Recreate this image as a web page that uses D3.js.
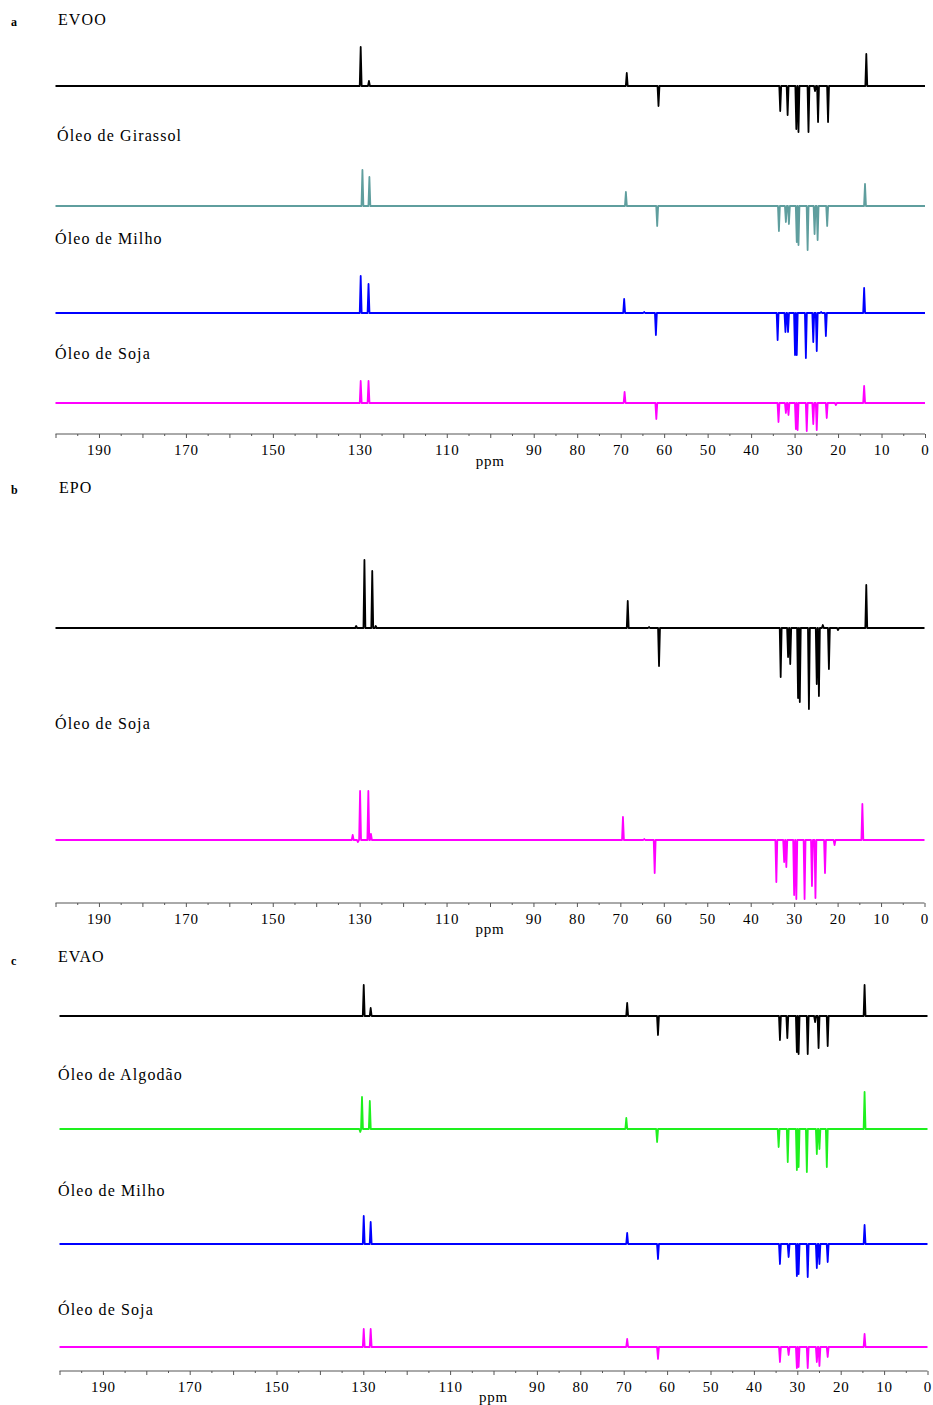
<!DOCTYPE html>
<html>
<head>
<meta charset="utf-8">
<script src="https://cdn.jsdelivr.net/npm/d3@7"></script>
<style>
  body { margin: 0; background: #fff; }
  text { font-family: "Liberation Serif", "DejaVu Serif", serif; }
</style>
</head>
<body>
<svg id="chart" width="933" height="1405"></svg>
<script>
// peak lists: [ppm, relative intensity] (negative = CH2 in DEPT)
const evooA = [[129.8, 39], [127.9, 5], [68.6, 13], [61.3, -20], [33.3, -25], [31.6, -29],
  [29.6, -43], [29.1, -46], [26.8, -46], [25.3, -5], [24.6, -36], [22.3, -36], [13.5, 32]];
const girassolA = [[129.4, 36], [127.8, 29], [68.8, 14], [61.6, -20], [33.6, -25], [32.0, -16],
  [31.3, -18], [29.5, -36], [29.1, -39], [27.0, -44], [25.4, -28], [24.7, -34], [22.5, -20], [13.8, 22]];
const milhoA = [[129.8, 37], [128.0, 29], [69.2, 14], [64.6, 1], [61.9, -22], [33.9, -27], [32.1, -19],
  [31.5, -19], [29.9, -42], [29.5, -42], [27.4, -45], [25.7, -29], [24.9, -38], [23.9, 1], [22.8, -23], [14.0, 25]];
const sojaA = [[129.8, 22], [128.0, 22], [69.1, 11], [61.8, -16], [33.7, -19], [32.0, -10], [31.4, -12],
  [29.7, -26], [29.3, -27], [27.2, -28], [25.7, -21], [24.9, -27], [22.6, -15], [20.5, -2], [14.0, 17]];

const epoB = [[130.8, 2], [128.9, 68], [127.1, 57], [126.3, 2], [68.3, 27], [63.4, 1], [61.1, -38],
  [33.1, -49], [31.4, -29], [30.9, -36], [29.1, -70], [28.7, -74], [26.6, -81], [24.8, -56],
  [24.3, -68], [23.4, 3], [22.0, -41], [19.9, -2], [13.4, 43]];
const sojaB = [[131.6, 5], [130.4, -2], [129.9, 49], [128.0, 49], [127.4, 6], [69.4, 23], [64.5, 1],
  [62.1, -33], [34.1, -42], [32.3, -22], [31.8, -27], [30.0, -55], [29.5, -59], [27.6, -59],
  [25.9, -46], [25.1, -58], [22.9, -33], [20.7, -5], [14.3, 36]];

const evaoC = [[129.9, 31], [128.3, 8], [69.2, 13], [62.1, -19], [34.0, -24], [32.3, -22],
  [30.1, -36], [29.7, -38], [27.6, -38], [25.9, -6], [25.1, -32], [23.0, -30], [14.5, 31]];
const algodaoC = [[130.7, -3], [130.3, 32], [128.5, 28], [69.4, 11], [62.3, -13], [34.3, -18],
  [32.2, -33], [30.1, -41], [29.7, -38], [27.8, -43], [25.5, -25], [24.9, -20], [23.2, -38], [14.5, 37]];
const milhoC = [[129.9, 28], [128.3, 22], [69.2, 11], [62.1, -15], [34.0, -20], [32.0, -13],
  [30.1, -32], [29.7, -30], [27.6, -33], [25.5, -24], [24.9, -20], [23.0, -18], [14.5, 19]];
const sojaC = [[129.9, 18], [128.3, 18], [69.2, 8], [62.1, -12], [34.0, -15], [32.0, -8],
  [30.1, -21], [29.7, -20], [27.6, -21], [25.5, -15], [24.9, -19], [23.0, -10], [14.5, 13]];

// axis ticks
const labeledTicks = [190, 170, 150, 130, 110, 90, 80, 70, 60, 50, 40, 30, 20, 10, 0];
const majorTicks = d3.range(0, 201, 10);
const minorTicks = d3.range(5, 200, 10);

const panels = [
  { letter: "a", letterY: 26, x0: 55.5, x1: 925, axisY: 434, ppmY: 466,
    traces: [
      { name: "EVOO", data: evooA, color: "#000000", lx: 58, ly: 25, base: 86 },
      { name: "Óleo de Girassol", data: girassolA, color: "#5f9e9e", lx: 57, ly: 141, base: 206 },
      { name: "Óleo de Milho", data: milhoA, color: "#0000ff", lx: 55, ly: 244, base: 313 },
      { name: "Óleo de Soja", data: sojaA, color: "#ff00ff", lx: 55, ly: 359, base: 403 }
    ] },
  { letter: "b", letterY: 494, x0: 55.5, x1: 924.5, axisY: 903, ppmY: 934,
    traces: [
      { name: "EPO", data: epoB, color: "#000000", lx: 59, ly: 493, base: 628 },
      { name: "Óleo de Soja", data: sojaB, color: "#ff00ff", lx: 55, ly: 729, base: 840 }
    ] },
  { letter: "c", letterY: 965, x0: 59.5, x1: 927.5, axisY: 1371, ppmY: 1402,
    traces: [
      { name: "EVAO", data: evaoC, color: "#000000", lx: 58, ly: 962, base: 1016 },
      { name: "Óleo de Algodão", data: algodaoC, color: "#1ef01e", lx: 58, ly: 1080, base: 1129 },
      { name: "Óleo de Milho", data: milhoC, color: "#0000ff", lx: 58, ly: 1196, base: 1244 },
      { name: "Óleo de Soja", data: sojaC, color: "#ff00ff", lx: 58, ly: 1315, base: 1347 }
    ] }
];

const svg = d3.select("#chart");
const halfWidth = 0.22; // half base of each peak, ppm

// turn a peak list into line points along the ppm axis
function peakPoints(peaks) {
  const sorted = peaks.slice().sort((a, b) => b[0] - a[0]);
  const pts = [[200, 0]];
  sorted.forEach(p => {
    pts.push([p[0] + halfWidth, 0], [p[0], p[1]], [p[0] - halfWidth, 0]);
  });
  pts.push([0, 0]);
  return pts;
}

panels.forEach(panel => {
  const x = d3.scaleLinear().domain([200, 0]).range([panel.x0, panel.x1]);
  const g = svg.append("g");

  g.append("text")
    .attr("x", 11)
    .attr("y", panel.letterY)
    .attr("font-size", 12)
    .attr("font-weight", "bold")
    .text(panel.letter);

  panel.traces.forEach(tr => {
    const y = d3.scaleLinear().domain([-100, 100]).range([tr.base + 100, tr.base - 100]);
    const line = d3.line()
      .x(d => x(d[0]))
      .y(d => y(d[1]));

    g.append("path")
      .datum(peakPoints(tr.data))
      .attr("d", line)
      .attr("fill", "none")
      .attr("stroke", tr.color)
      .attr("stroke-width", 1.8)
      .attr("stroke-linejoin", "round");

    g.append("text")
      .attr("x", tr.lx)
      .attr("y", tr.ly)
      .attr("font-size", 16)
      .attr("letter-spacing", "1.1px")
      .text(tr.name);
  });

  // axis: major ticks every 10 ppm, minor every 5 ppm
  const axisG = g.append("g").attr("transform", `translate(0,${panel.axisY})`);
  axisG.call(d3.axisBottom(x).tickValues(majorTicks).tickSize(4)
      .tickFormat(d => labeledTicks.includes(d) ? d : ""))
    .call(a => a.select(".domain").attr("stroke", "#555").attr("d", `M${panel.x0},0H${panel.x1}`))
    .call(a => a.selectAll(".tick line").attr("stroke", "#555"))
    .call(a => a.selectAll(".tick text")
      .attr("font-family", "Liberation Serif")
      .attr("font-size", 15)
      .attr("letter-spacing", "0.8px")
      .attr("fill", "#000")
      .attr("dy", "0.9em"));

  axisG.append("g")
    .call(d3.axisBottom(x).tickValues(minorTicks).tickSize(2).tickFormat(""))
    .call(a => a.select(".domain").remove())
    .call(a => a.selectAll(".tick line").attr("stroke", "#555"));

  g.append("text")
    .attr("x", x(100))
    .attr("y", panel.ppmY)
    .attr("text-anchor", "middle")
    .attr("font-size", 15)
    .attr("letter-spacing", "0.8px")
    .text("ppm");
});
</script>
</body>
</html>
